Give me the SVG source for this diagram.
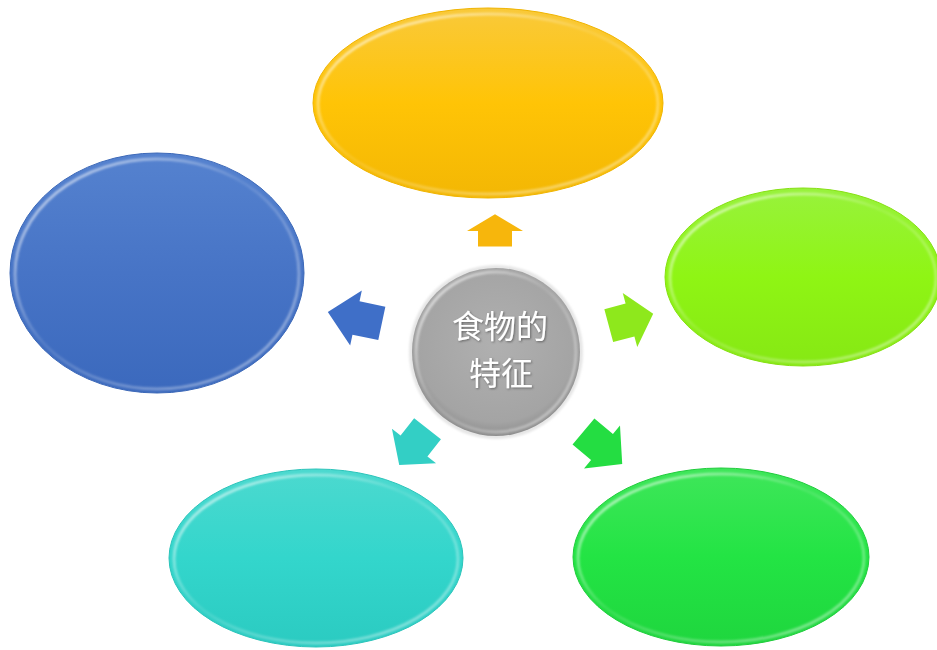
<svg xmlns="http://www.w3.org/2000/svg" width="937" height="650" viewBox="0 0 937 650">
  <defs>
    <linearGradient id="gYellow" x1="0" y1="0" x2="0" y2="1">
      <stop offset="0" stop-color="#f9c93a"/>
      <stop offset="0.5" stop-color="#ffc406"/>
      <stop offset="1" stop-color="#f3b704"/>
    </linearGradient>
    <linearGradient id="gBlue" x1="0" y1="0" x2="0" y2="1">
      <stop offset="0" stop-color="#5582cf"/>
      <stop offset="0.5" stop-color="#4774c6"/>
      <stop offset="1" stop-color="#3b69bd"/>
    </linearGradient>
    <linearGradient id="gLime" x1="0" y1="0" x2="0" y2="1">
      <stop offset="0" stop-color="#98f23c"/>
      <stop offset="0.5" stop-color="#8ff514"/>
      <stop offset="1" stop-color="#86e814"/>
    </linearGradient>
    <linearGradient id="gTeal" x1="0" y1="0" x2="0" y2="1">
      <stop offset="0" stop-color="#4cd9cf"/>
      <stop offset="0.5" stop-color="#33d6cc"/>
      <stop offset="1" stop-color="#2bcbc1"/>
    </linearGradient>
    <linearGradient id="gGreen" x1="0" y1="0" x2="0" y2="1">
      <stop offset="0" stop-color="#3fe65a"/>
      <stop offset="0.5" stop-color="#23e444"/>
      <stop offset="1" stop-color="#1fd63e"/>
    </linearGradient>
    <radialGradient id="gGray" cx="0.5" cy="0.45" r="0.55">
      <stop offset="0" stop-color="#b0b0b0"/>
      <stop offset="0.85" stop-color="#a4a4a4"/>
      <stop offset="1" stop-color="#8e8e8e"/>
    </radialGradient>
    <linearGradient id="rim" x1="0" y1="0" x2="1" y2="1">
      <stop offset="0" stop-color="#ffffff" stop-opacity="0.75"/>
      <stop offset="0.45" stop-color="#ffffff" stop-opacity="0.1"/>
      <stop offset="1" stop-color="#ffffff" stop-opacity="0.5"/>
    </linearGradient>
    <filter id="soft" x="-10%" y="-10%" width="120%" height="120%">
      <feGaussianBlur stdDeviation="1.2"/>
    </filter>
    <filter id="txtShadow" x="-20%" y="-20%" width="140%" height="140%">
      <feDropShadow dx="1" dy="1" stdDeviation="1" flood-color="#555555" flood-opacity="0.8"/>
    </filter>
    <path id="arrow" d="M-22,-17 L0,-17 L0,-28 L24,0 L0,28 L0,17 L-22,17 Z"/>
  </defs>
  <style>
    .rim { fill: none; stroke: url(#rim); stroke-width: 3; filter: url(#soft); }
    .label { font-family: "Noto Sans CJK SC", "Noto Sans", sans-serif; font-size: 32px; fill: #ffffff; text-anchor: middle; filter: url(#txtShadow); }
  </style>
  <rect width="937" height="650" fill="#ffffff"/>

  <g id="node-top">
    <ellipse cx="488" cy="103" rx="175" ry="95" fill="url(#gYellow)" stroke="#f0b400" stroke-width="1"/>
    <ellipse class="rim" cx="488" cy="104" rx="170" ry="90"/>
  </g>
  <g id="node-left">
    <ellipse cx="157" cy="273" rx="147" ry="120" fill="url(#gBlue)" stroke="#3d69b8" stroke-width="1"/>
    <ellipse class="rim" cx="157" cy="274" rx="142" ry="115"/>
  </g>
  <g id="node-right">
    <ellipse cx="803" cy="277" rx="138" ry="89" fill="url(#gLime)" stroke="#86e012" stroke-width="1"/>
    <ellipse class="rim" cx="803" cy="278" rx="133" ry="84"/>
  </g>
  <g id="node-bottom-left">
    <ellipse cx="316" cy="558" rx="147" ry="89" fill="url(#gTeal)" stroke="#2cc4ba" stroke-width="1"/>
    <ellipse class="rim" cx="316" cy="559" rx="142" ry="84"/>
  </g>
  <g id="node-bottom-right">
    <ellipse cx="721" cy="557" rx="148" ry="89" fill="url(#gGreen)" stroke="#20cc3c" stroke-width="1"/>
    <ellipse class="rim" cx="721" cy="558" rx="143" ry="84"/>
  </g>

  <g id="connectors">
    <use href="#arrow" transform="translate(495,231) rotate(-90) scale(0.7,1)" fill="#f7b60c"/>
    <use href="#arrow" transform="translate(630,320) rotate(-15)" fill="#8ee81c"/>
    <use href="#arrow" transform="translate(356,318) rotate(192) scale(1.2,1)" fill="#3f6fc8"/>
    <use href="#arrow" transform="translate(414,446) rotate(128)" fill="#33cfc5"/>
    <use href="#arrow" transform="translate(602,447) rotate(40) scale(1.1,1)" fill="#24dd42"/>
  </g>

  <g id="node-center">
    <circle cx="496" cy="352" r="87" fill="#e6e6e6" filter="url(#soft)"/>
    <circle cx="496" cy="352" r="84" fill="url(#gGray)"/>
    <circle class="rim" cx="496" cy="352" r="80"/>
    <text class="label" x="500" y="338">食物的</text>
    <text class="label" x="501" y="385">特征</text>
  </g>
</svg>
